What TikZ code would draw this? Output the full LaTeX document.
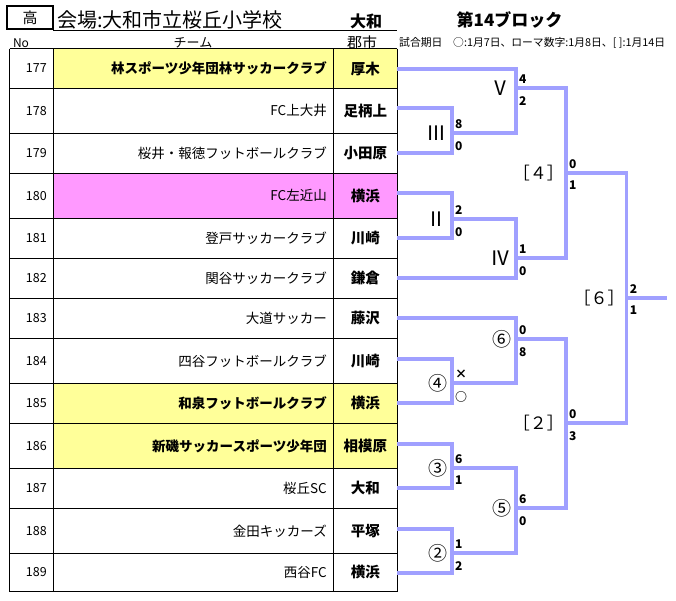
\documentclass[tikz,border=0pt]{standalone}
\usepackage{fontspec}
\setmainfont{Noto Sans CJK JP}
\usepackage{tikz}
\usetikzlibrary{calc}
\definecolor{bracketBlue}{RGB}{160,160,255}
\definecolor{teamYellow}{RGB}{255,255,153}
\definecolor{teamPink}{RGB}{255,153,255}
\newcommand{\setfs}[1]{\fontsize{#1}{#1}\selectfont}
\tikzset{
  bracket/.style={line width=3.5pt, bracketBlue},
  tabline/.style={line width=1pt, black},
  score/.style={font=\setfs{12}\bfseries, inner sep=0pt},
  matchlbl/.style={inner sep=0pt, anchor=east}
}

\begin{document}
\begin{tikzpicture}[x=1pt, y=-1pt]
  \useasboundingbox (0,0) rectangle (676,600);
  % heading
  \draw[line width=1.8pt] (7,6) rectangle (53,29);
  \node (level) at (30,17.5) {\setfs{15}高};
  \node[anchor=west, inner sep=0pt] (venue) at (57,19.5) {\setfs{20}会場:大和市立桜丘小学校};
  \node (home) at (366,21) {\setfs{16}\bfseries 大和};
  \draw[tabline] (53,30) -- (397.3,30);
  \node (hno) at (21,43) {\setfs{12}No};
  \node (hteam) at (193,43) {\setfs{13}チーム};
  \node (hcity) at (362,43) {\setfs{15}郡市};
  \node (block) at (509.5,19.5) {\setfs{17}\bfseries 第14ブロック};
  \node[anchor=west, inner sep=0pt] (dates) at (399,43) {\setfs{10.8}試合期日　○:1月7日、ローマ数字:1月8日、[ ]:1月14日};
  % table of teams
  \foreach \tno/\ya/\yb/\yc/\team/\city/\cellc/\wt in {
      177/48.7/88.3/69/林スポーツ少年団林サッカークラブ/厚木/teamYellow/\bfseries,
      178/88.3/133.3/108/FC上大井/足柄上/white/\mdseries,
      179/133.3/173.3/153/桜井・報徳フットボールクラブ/小田原/white/\mdseries,
      180/173.3/218.3/193/FC左近山/横浜/teamPink/\mdseries,
      181/218.3/258.3/238/登戸サッカークラブ/川崎/white/\mdseries,
      182/258.3/298.3/278/関谷サッカークラブ/鎌倉/white/\mdseries,
      183/298.3/338.3/318/大道サッカー/藤沢/white/\mdseries,
      184/338.3/383.3/359/四谷フットボールクラブ/川崎/white/\mdseries,
      185/383.3/423.3/403/和泉フットボールクラブ/横浜/teamYellow/\bfseries,
      186/423.3/468.3/444/新磯サッカースポーツ少年団/相模原/teamYellow/\bfseries,
      187/468.3/508.3/488/桜丘SC/大和/white/\mdseries,
      188/508.3/553.3/529/金田キッカーズ/平塚/white/\mdseries,
      189/553.3/591.7/573/西谷FC/横浜/white/\mdseries}
  {
    \fill[\cellc] (53.3,\ya) rectangle (397.3,\yb);
    \draw[tabline] (9.5,\ya) -- (397.3,\ya);
    \node[anchor=east, inner sep=0pt] (no\tno) at (47,{(\ya+\yb)/2}) {\setfs{12.5}\tno};
    \node[anchor=east, inner sep=0pt] (team\tno) at (327,{(\ya+\yb)/2}) {\setfs{13.5}\wt\team};
    \node (city\tno) at (365.3,{(\ya+\yb)/2}) {\setfs{14.5}\bfseries\city};
    \coordinate (t\tno) at (397.3,\yc);
  }
  \draw[tabline] (9.5,591.7) -- (397.3,591.7);
  \foreach \xv in {53.3, 333.3}
    \draw[tabline] (\xv,48.7) -- (\xv,591.7);
  \draw[line width=1.6pt] (9.5,48.7) -- (9.5,591.7);
  \draw[line width=1.3pt] (397.3,48.7) -- (397.3,591.7);
  % match points
  \coordinate (r3) at (452,133);
  \coordinate (r5) at (516,88);
  \coordinate (r2) at (452,219);
  \coordinate (r4) at (516,258);
  \coordinate (k4) at (566,173);
  \coordinate (c4) at (452,383);
  \coordinate (c6) at (516,339);
  \coordinate (c3) at (452,468);
  \coordinate (c2) at (452,553);
  \coordinate (c5) at (516,508);
  \coordinate (k2) at (566,423);
  \coordinate (k6) at (626.7,298);
  \coordinate (champ) at (666.7,298);
  % bracket
  \draw[bracket] (t178) -| (r3) |- (t179);
  \draw[bracket] (t177) -| (r5) |- (r3);
  \draw[bracket] (t180) -| (r2) |- (t181);
  \draw[bracket] (r2) -| (r4) |- (t182);
  \draw[bracket] (r5) -| (k4) |- (r4);
  \draw[bracket] (t184) -| (c4) |- (t185);
  \draw[bracket] (t183) -| (c6) |- (c4);
  \draw[bracket] (t186) -| (c3) |- (t187);
  \draw[bracket] (t188) -| (c2) |- (t189);
  \draw[bracket] (c3) -| (c5) |- (c2);
  \draw[bracket] (c6) -| (k2) |- (c5);
  \draw[bracket] (k4) -| (k6) |- (k2);
  \draw[bracket] (k6) -- (champ);
  % match labels and scores
  \foreach \m/\lbl/\sz/\dx/\up/\dn in {r5/Ⅴ/20/-5/4/2, r3/Ⅲ/20/-5/8/0, r2/Ⅱ/20/-5/2/0, r4/Ⅳ/20/-5/1/0,
      k4/［４］/17/-2/0/1, k6/［６］/17/-2/2/1, c6/⑥/19/-4/0/8, c4/④/19/-4/×/○,
      k2/［２］/17/-2/0/3, c3/③/19/-4/6/1, c5/⑤/19/-4/6/0, c2/②/19/-4/1/2}
  {
    \node[matchlbl, font=\setfs{\sz}, xshift=\dx pt] (l\m) at (\m) {\lbl};
    \node[score, anchor=south west, xshift=3pt, yshift=4pt] (su\m) at (\m) {\up};
    \node[score, anchor=north west, xshift=3pt, yshift=-8pt] (sd\m) at (\m) {\dn};
  }
\end{tikzpicture}
\end{document}
